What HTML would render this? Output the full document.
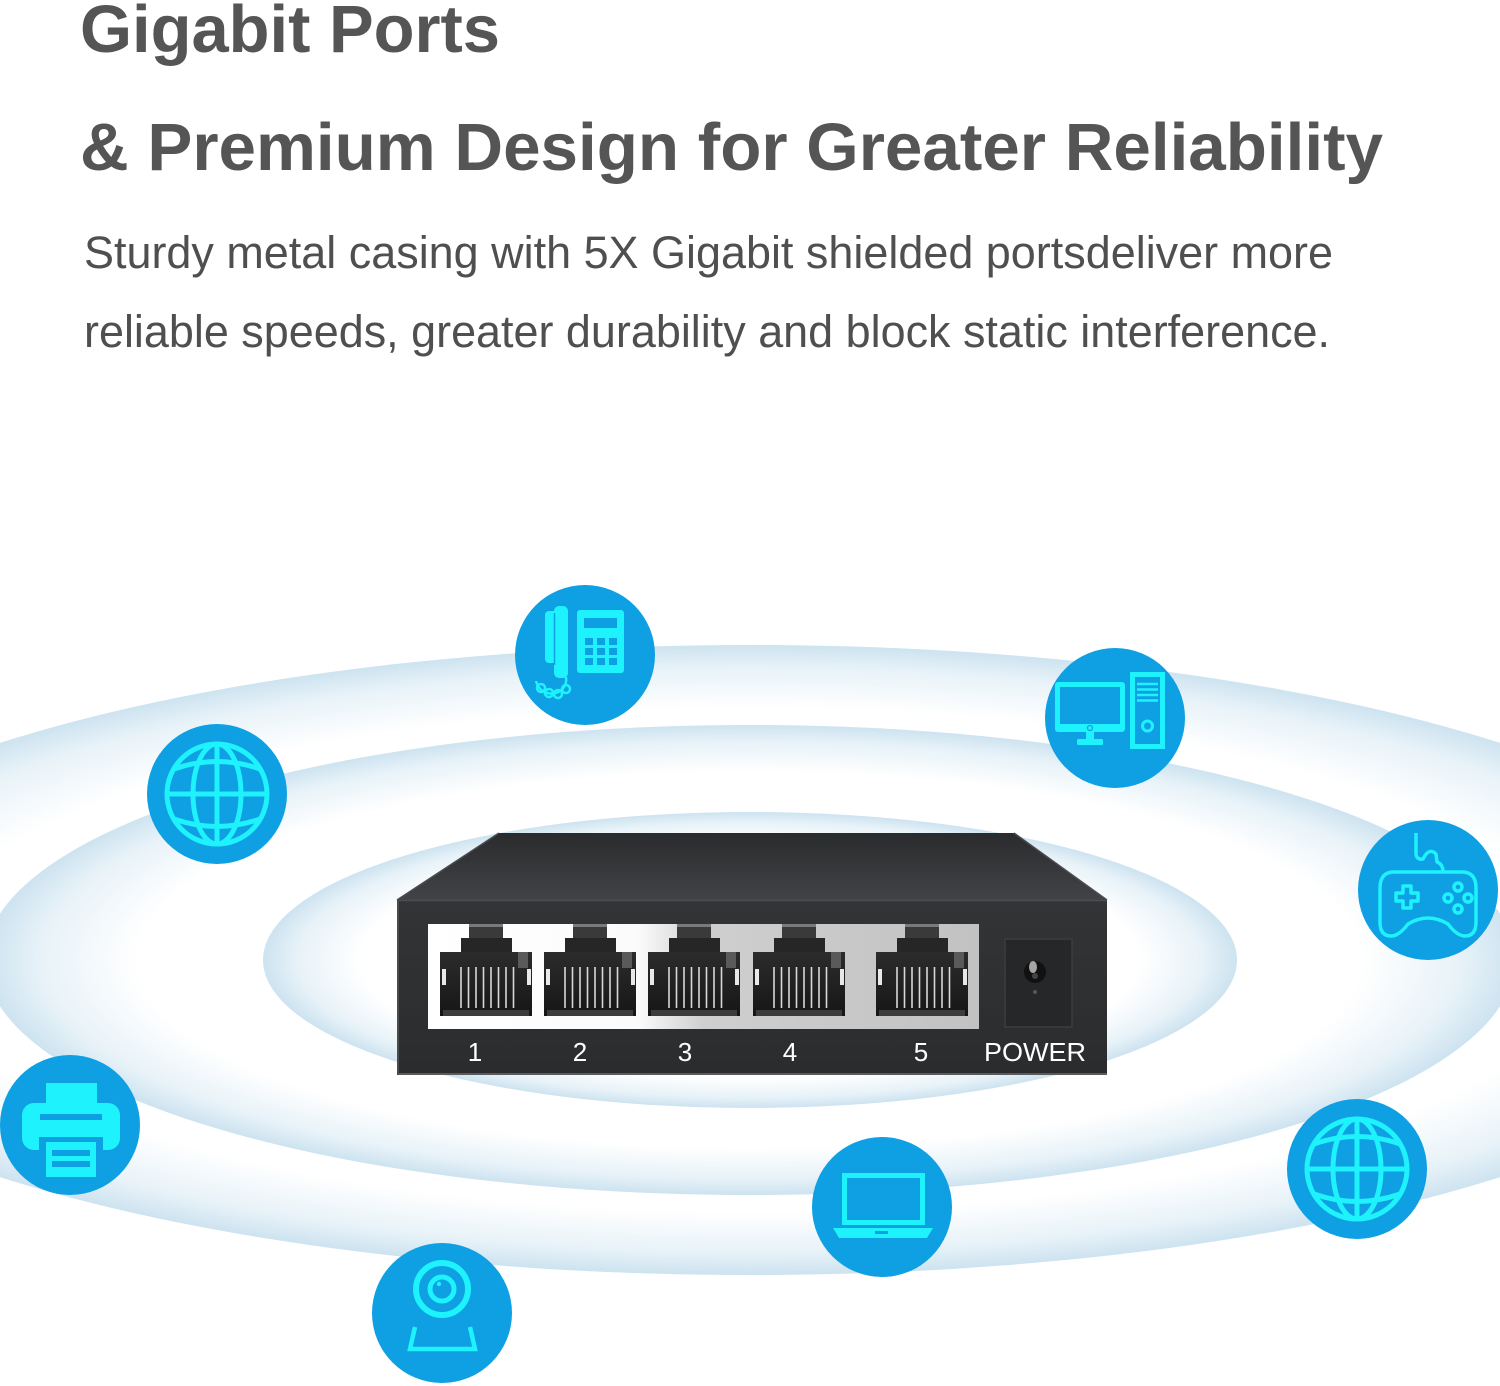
<!DOCTYPE html>
<html>
<head>
<meta charset="utf-8">
<style>
html,body{margin:0;padding:0;background:#fff;}
svg{display:block;}
</style>
</head>
<body>
<svg width="1500" height="1386" viewBox="0 0 1500 1386" xmlns="http://www.w3.org/2000/svg">
<defs>
  <radialGradient id="ring" cx="0.5" cy="0.5" r="0.5">
    <stop offset="0" stop-color="#ffffff"/>
    <stop offset="0.80" stop-color="#ffffff"/>
    <stop offset="0.93" stop-color="#e7f2f8"/>
    <stop offset="1" stop-color="#cde3f0"/>
  </radialGradient>
  <linearGradient id="topface" x1="0" y1="0" x2="0" y2="1">
    <stop offset="0" stop-color="#2a2b2d"/>
    <stop offset="1" stop-color="#414346"/>
  </linearGradient>
  <linearGradient id="front" x1="0" y1="0" x2="0" y2="1">
    <stop offset="0" stop-color="#333436"/>
    <stop offset="1" stop-color="#2b2c2e"/>
  </linearGradient>
  <linearGradient id="panel" x1="0" y1="0" x2="1" y2="0">
    <stop offset="0" stop-color="#ffffff"/>
    <stop offset="0.38" stop-color="#fbfbfb"/>
    <stop offset="0.50" stop-color="#cfcfcf"/>
    <stop offset="1" stop-color="#c2c2c2"/>
  </linearGradient>
  <linearGradient id="port" x1="0" y1="0" x2="0" y2="1">
    <stop offset="0" stop-color="#2c2c2c"/>
    <stop offset="1" stop-color="#161616"/>
  </linearGradient>
  <g id="globe" stroke="#1ef2fc" stroke-width="5" fill="none">
    <circle r="50"/>
    <ellipse rx="24" ry="50"/>
    <line x1="0" y1="-50" x2="0" y2="50"/>
    <line x1="-50" y1="0" x2="50" y2="0"/>
    <path d="M-43,-25 Q0,-40 43,-25"/>
    <path d="M-43,25 Q0,40 43,25"/>
  </g>
  <g id="rj45">
    <rect x="29" y="924" width="34" height="14" fill="#3a3a3a"/>
    <rect x="29" y="924" width="34" height="3" fill="#7a7a7a"/>
    <rect x="21" y="938" width="51" height="14" fill="#262626"/>
    <rect x="0" y="952" width="92" height="64" fill="url(#port)"/>
    <rect x="78" y="952" width="10" height="16" fill="#5a5a5a"/>
    <rect x="2" y="969" width="4" height="16" fill="#e8e8e8"/>
    <rect x="87" y="969" width="4" height="16" fill="#e8e8e8"/>
    <g stroke="#d8d8d8" stroke-width="1.6">
      <line x1="21" y1="967" x2="21" y2="1008"/>
      <line x1="28.5" y1="967" x2="28.5" y2="1008"/>
      <line x1="36" y1="967" x2="36" y2="1008"/>
      <line x1="43.5" y1="967" x2="43.5" y2="1008"/>
      <line x1="51" y1="967" x2="51" y2="1008"/>
      <line x1="58.5" y1="967" x2="58.5" y2="1008"/>
      <line x1="66" y1="967" x2="66" y2="1008"/>
      <line x1="73.5" y1="967" x2="73.5" y2="1008"/>
    </g>
    <rect x="3" y="1010" width="86" height="6" fill="#3c3c3c"/>
  </g>
</defs>

<rect width="1500" height="1386" fill="#ffffff"/>

<!-- rings -->
<ellipse cx="750" cy="960" rx="1035" ry="315" fill="url(#ring)"/>
<ellipse cx="750" cy="960" rx="765" ry="235" fill="url(#ring)"/>
<ellipse cx="750" cy="960" rx="487" ry="148" fill="url(#ring)"/>

<!-- title -->
<g font-family="'Liberation Sans', Arial, sans-serif">
  <text x="80" y="52" font-size="67" font-weight="bold" fill="#555555" textLength="420" lengthAdjust="spacingAndGlyphs">Gigabit Ports</text>
  <text x="80" y="170" font-size="67" font-weight="bold" fill="#555555" textLength="1303" lengthAdjust="spacingAndGlyphs">&amp; Premium Design for Greater Reliability</text>
  <text x="84" y="268" font-size="45" fill="#4f4f4f" textLength="1249" lengthAdjust="spacingAndGlyphs">Sturdy metal casing with 5X Gigabit shielded portsdeliver more</text>
  <text x="84" y="347" font-size="45" fill="#4f4f4f" textLength="1246" lengthAdjust="spacingAndGlyphs">reliable speeds, greater durability and block static interference.</text>
</g>

<!-- switch -->
<polygon points="499,833 1014,833 1107,900 397,900" fill="url(#topface)"/>
<line x1="397" y1="900" x2="499" y2="833" stroke="#4a4c4f" stroke-width="1.5"/>
<line x1="1107" y1="900" x2="1014" y2="833" stroke="#4a4c4f" stroke-width="1.5"/>
<rect x="397" y="900" width="710" height="175" fill="url(#front)"/>
<line x1="397" y1="900.5" x2="1107" y2="900.5" stroke="#4b4d50" stroke-width="1.5"/>
<rect x="397" y="1073" width="710" height="2" fill="#5a5b5d"/>
<rect x="397" y="900" width="2" height="175" fill="#4a4b4d"/>
<rect x="428" y="924" width="551" height="105" fill="url(#panel)"/>
<use href="#rj45" x="440"/>
<use href="#rj45" x="544"/>
<use href="#rj45" x="648"/>
<use href="#rj45" x="753"/>
<use href="#rj45" x="876"/>
<rect x="1005" y="939" width="67" height="88" fill="#262729" stroke="#3c3d3f" stroke-width="1.5"/>
<circle cx="1035" cy="972" r="11" fill="#111"/>
<ellipse cx="1033" cy="967" rx="4" ry="6" fill="#a5a5a5"/>
<circle cx="1035" cy="976" r="3" fill="#444"/>
<circle cx="1035" cy="992" r="2" fill="#555"/>
<g font-family="'Liberation Sans', Arial, sans-serif" font-size="26" fill="#ffffff" text-anchor="middle">
  <text x="475" y="1061">1</text>
  <text x="580" y="1061">2</text>
  <text x="685" y="1061">3</text>
  <text x="790" y="1061">4</text>
  <text x="921" y="1061">5</text>
  <text x="1035" y="1061" textLength="102" lengthAdjust="spacingAndGlyphs">POWER</text>
</g>

<!-- icon circles -->
<g fill="#0f9fe3">
  <circle cx="585" cy="655" r="70"/>
  <circle cx="1115" cy="718" r="70"/>
  <circle cx="217" cy="794" r="70"/>
  <circle cx="1428" cy="890" r="70"/>
  <circle cx="70" cy="1125" r="70"/>
  <circle cx="882" cy="1207" r="70"/>
  <circle cx="1357" cy="1169" r="70"/>
  <circle cx="442" cy="1313" r="70"/>
</g>

<!-- globes -->
<use href="#globe" x="217" y="794"/>
<use href="#globe" x="1357" y="1169"/>

<!-- phone -->
<g transform="translate(585,655)">
  <rect x="-40" y="-44" width="12" height="52" rx="4" fill="#1ef2fc"/>
  <rect x="-31" y="-49" width="14" height="72" rx="5" fill="#1ef2fc"/>
  <line x1="-30.5" y1="-42" x2="-30.5" y2="10" stroke="#0f9fe3" stroke-width="1.5"/>
  <rect x="-8" y="-45" width="47" height="63" rx="3" fill="#1ef2fc"/>
  <rect x="-1" y="-37" width="33" height="10" fill="#0f9fe3"/>
  <g fill="#0f9fe3">
    <rect x="0" y="-17" width="8" height="7"/>
    <rect x="12" y="-17" width="8" height="7"/>
    <rect x="24" y="-17" width="8" height="7"/>
    <rect x="0" y="-7" width="8" height="7"/>
    <rect x="12" y="-7" width="8" height="7"/>
    <rect x="24" y="-7" width="8" height="7"/>
    <rect x="0" y="3" width="8" height="7"/>
    <rect x="12" y="3" width="8" height="7"/>
    <rect x="24" y="3" width="8" height="7"/>
  </g>
  <g stroke="#1ef2fc" stroke-width="2.5" fill="none">
    <path d="M-19,22 C-16,40 -44,46 -49,26"/>
    <circle cx="-44" cy="33" r="4"/>
    <circle cx="-36" cy="38" r="4"/>
    <circle cx="-27" cy="39" r="4"/>
    <circle cx="-19" cy="34" r="4"/>
  </g>
</g>

<!-- computer -->
<g transform="translate(1115,718)">
  <rect x="-60" y="-36" width="70" height="50" rx="3" fill="#1ef2fc"/>
  <rect x="-55" y="-31" width="60" height="37" fill="#0f9fe3"/>
  <circle cx="-25" cy="10" r="2.5" fill="none" stroke="#0f9fe3" stroke-width="1.2"/>
  <rect x="-29" y="14" width="8" height="8" fill="#1ef2fc"/>
  <rect x="-38" y="21" width="26" height="6" rx="1" fill="#1ef2fc"/>
  <rect x="17.5" y="-43.5" width="30" height="72" fill="none" stroke="#1ef2fc" stroke-width="5"/>
  <g stroke="#1ef2fc" stroke-width="2.5">
    <line x1="22" y1="-34" x2="43" y2="-34"/>
    <line x1="22" y1="-28.5" x2="43" y2="-28.5"/>
    <line x1="22" y1="-23" x2="43" y2="-23"/>
    <line x1="22" y1="-17.5" x2="43" y2="-17.5"/>
  </g>
  <circle cx="32.5" cy="8" r="5" fill="none" stroke="#1ef2fc" stroke-width="3"/>
</g>

<!-- gamepad -->
<g transform="translate(1428,890)" stroke="#1ef2fc" stroke-width="3.5" fill="none" stroke-linejoin="round">
  <path d="M-34,-18 L34,-18 Q48,-18 48,-2 L48,32 Q48,46 37,46 Q29,46 20,34 Q0,22 -20,34 Q-29,46 -37,46 Q-48,46 -48,32 L-48,-2 Q-48,-18 -34,-18 Z"/>
  <path d="M-12,-57 L-12,-37 Q-12,-30 -5,-31 Q1,-43 8,-36 L9,-28 Q15,-26 15,-18"/>
  <path d="M-25,-4 L-17,-4 L-17,3 L-10,3 L-10,11 L-17,11 L-17,18 L-25,18 L-25,11 L-32,11 L-32,3 L-25,3 Z"/>
  <circle cx="30" cy="-3" r="4"/>
  <circle cx="20" cy="8" r="4"/>
  <circle cx="40" cy="8" r="4"/>
  <circle cx="30" cy="19" r="4"/>
</g>

<!-- printer -->
<g transform="translate(70,1125)">
  <rect x="-48" y="-22" width="98" height="47" rx="12" fill="#1ef2fc"/>
  <rect x="-24" y="-42" width="51" height="31" fill="#1ef2fc"/>
  <rect x="-30" y="-11" width="62" height="6" fill="#0f9fe3"/>
  <rect x="-31" y="12" width="64" height="14" fill="#0f9fe3"/>
  <rect x="-24" y="17" width="50" height="35" fill="#1ef2fc"/>
  <rect x="-18" y="25" width="38" height="6" fill="#0f9fe3"/>
  <rect x="-18" y="36" width="38" height="6" fill="#0f9fe3"/>
</g>

<!-- laptop -->
<g transform="translate(882,1207)">
  <rect x="-37.5" y="-31.5" width="78" height="47" fill="none" stroke="#1ef2fc" stroke-width="5"/>
  <path d="M-49,21 L51,21 L45,31 L-43,31 Z" fill="#1ef2fc"/>
  <rect x="-7" y="24" width="13" height="3" fill="#0f9fe3"/>
</g>

<!-- webcam -->
<g transform="translate(442,1313)" stroke="#1ef2fc" fill="none">
  <circle cx="0" cy="-24" r="26" stroke-width="6"/>
  <circle cx="0" cy="-24" r="12" stroke-width="5"/>
  <circle cx="-3" cy="-29" r="2.2" fill="#1ef2fc" stroke="none"/>
  <path d="M-27,14 L-32,36 L33,36 L28,14" stroke-width="4.5"/>
</g>
</svg>
</body>
</html>
